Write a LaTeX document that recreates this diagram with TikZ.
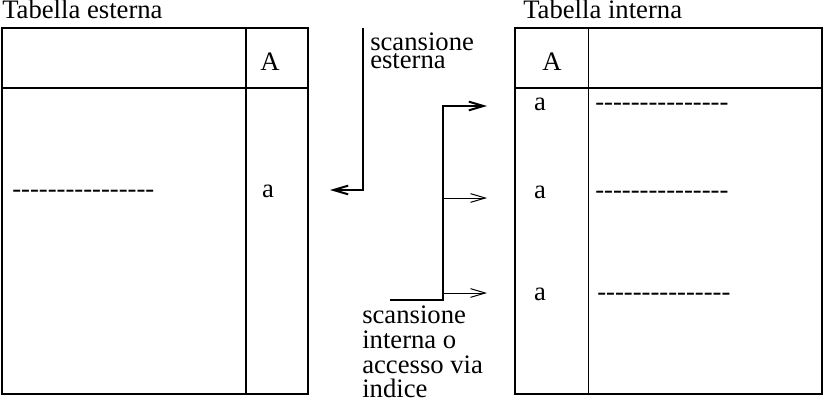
\documentclass[tikz,border=0pt]{standalone}
\usepackage{fontspec}
\setmainfont{Liberation Serif}
\usetikzlibrary{arrows.meta}
\newcommand{\trattini}[1]{\foreach \k in {1,...,#1}{\hbox{-}}}
\newcommand{\righestrette}{\lineskiplimit=-100pt\relax}

\begin{document}
\begin{tikzpicture}[x=0.75pt,y=0.75pt,yscale=-1,xscale=1,
  every node/.style={inner sep=0pt,font=\fontsize{20}{22}\selectfont},
  bordo/.style={line width=1.5pt},
  sottile/.style={line width=0.75pt},
  freccia/.style={-{Straight Barb[length=11pt,width=6.5pt]}}]
\useasboundingbox (0,0) rectangle (824,403);

%Shape: Rectangle [tabella esterna]
\draw[bordo] (2,28) rectangle (308,394);
%Straight Lines
\draw[bordo] (2,88) -- (308,88);
%Straight Lines
\draw[bordo] (246,28) -- (246,394);

%Shape: Rectangle [tabella interna]
\draw[bordo] (515,28) rectangle (822,394);
%Straight Lines
\draw[bordo] (515,88) -- (822,88);
%Straight Lines
\draw[sottile] (588,28) -- (588,394);

% Text Node
\node[anchor=base west] (titEst) at (2,19) {Tabella esterna};
% Text Node
\node[anchor=base west] (titInt) at (523,19) {Tabella interna};
% Text Node
\node[anchor=base] (colEst) at (270,70) {A};
% Text Node
\node[anchor=base] (colInt) at (552,70) {A};
% Text Node
\node[anchor=base] (valEst) at (268,197) {a};
% Text Node
\node[anchor=base west] (rigaEst) at (12,197) {\trattini{16}};
% Text Node
\node[anchor=base] (valInt1) at (540,110) {a};
% Text Node
\node[anchor=base] (valInt2) at (540,198) {a};
% Text Node
\node[anchor=base] (valInt3) at (540,300) {a};
% Text Node
\node[anchor=base west] (rigaInt1) at (595,110) {\trattini{15}};
% Text Node
\node[anchor=base west] (rigaInt2) at (595,198) {\trattini{15}};
% Text Node
\node[anchor=base west] (rigaInt3) at (597,300) {\trattini{15}};

% Text Node
\node[anchor=north west,align=left,font={\fontsize{20}{13}\selectfont\righestrette}] (scanEst) at (370,33) {scansione\\esterna};
% Text Node
\node[anchor=north west,align=left,font={\fontsize{20}{18.5}\selectfont\righestrette}] (scanInt) at (362,306) {scansione\\interna o\\accesso via\\indice};

%Connector: scansione esterna
\coordinate (estInizio) at (363,28);
\coordinate (estGomito) at (363,190);
\coordinate (estFine) at (330,190);
\draw[bordo,freccia] (estInizio) -- (estGomito) -- (estFine);

%Connector: scansione interna
\coordinate (intInizio) at (390,300);
\coordinate (intAngolo) at (443,300);
\coordinate (intCima) at (443,106);
\coordinate (intFine1) at (487,106);
\draw[bordo,freccia] (intInizio) -- (intAngolo) -- (intCima) -- (intFine1);
\coordinate (ramo2) at (443,198);
\coordinate (intFine2) at (487,198);
\draw[sottile,freccia] (ramo2) -- (intFine2);
\coordinate (ramo3) at (443,293);
\coordinate (intFine3) at (487,293);
\draw[sottile,freccia] (ramo3) -- (intFine3);

\end{tikzpicture}
\end{document}
